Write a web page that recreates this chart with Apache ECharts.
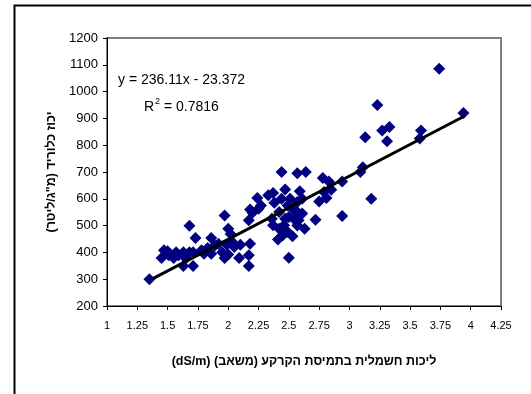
<!DOCTYPE html>
<html>
<head>
<meta charset="utf-8">
<script src="https://cdn.jsdelivr.net/npm/echarts@6/dist/echarts.min.js"></script>
<style>
html,body{margin:0;padding:0;background:#fff;}
#c{width:531px;height:394px;}
</style>
</head>
<body>
<div id="c"></div>
<script>
// EC (dS/m) and chloride (mg/L) values
const ecValues = [1.35,3.74,3.94,3.23,3.13,3.27,3.33,3.31,3.59,3.58,3.09,3.11,3.18,2.94,2.94,2.78,2.83,2.75,2.81,2.85,2.79,2.72,2.64,2.57,2.59,2.61,2.57,2.61,2.63,2.57,2.53,2.50,2.44,2.47,2.44,2.37,2.38,2.42,2.49,2.51,2.50,2.46,2.42,2.37,2.41,2.47,2.53,2.54,2.24,2.27,2.25,2.18,2.20,2.17,2.18,2.17,2.17,2.10,2.09,2.05,2.03,2.00,1.97,2.02,1.99,1.95,1.97,2.00,1.92,1.86,1.89,1.86,1.80,1.73,1.68,1.71,1.71,1.68,1.63,1.63,1.57,1.55,1.51,1.47,1.45,1.50,1.59,1.65,1.78,1.83,2.36,2.33,2.49,2.45,2.57,2.58];
const chlorideValues = [300,1085,920,950,830,855,868,815,855,825,700,718,600,665,536,678,665,590,603,634,625,522,700,695,628,600,588,545,488,500,460,380,700,635,600,622,585,551,575,600,532,501,488,501,448,526,563,526,603,575,563,560,548,520,432,389,349,429,379,420,441,488,538,469,429,401,379,392,432,454,426,395,395,454,499,349,401,401,349,401,401,379,389,408,379,404,389,377,408,416,526,613,476,464,551,520];
// Trend line endpoints (y = 236.11x - 23.372)
const trendX = [1.37, 3.95];
const trendY = [300, 909];
const equationText = 'y = 236.11x - 23.372';
const r2Value = '0.7816';
const xAxisTitle = '\u202Bליכות חשמלית בתמיסת הקרקע (משאב) (dS/m)\u202C';
const yAxisTitle = '\u202Bיכוז כלוריד (מ"ג/ליטר)\u202C';

const FONT = '"Liberation Sans", Arial, sans-serif';
const scatterData = ecValues.map((x, i) => [x, chlorideValues[i]]);
const trendData = trendX.map((x, i) => [x, trendY[i]]);

const chart = echarts.init(document.getElementById('c'), null, {renderer: 'canvas'});
chart.setOption({
  animation: false,
  backgroundColor: '#ffffff',
  textStyle: {fontFamily: FONT},
  title: [
    {text: equationText, left: 113, top: 68, textStyle: {fontFamily: FONT, fontSize: 14, fontWeight: 'normal', color: '#000'}},
    {text: '{a|R}{s|2}{a| = ' + r2Value + '}', left: 139, top: 92,
     textStyle: {fontWeight: 'normal', rich: {
       a: {fontFamily: FONT, fontSize: 14, fontWeight: 'normal', color: '#000', verticalAlign: 'bottom'},
       s: {fontFamily: FONT, fontSize: 9, fontWeight: 'normal', color: '#000', verticalAlign: 'top', padding: [0,0,8,1]}
     }}}
  ],
  graphic: [
    {type: 'rect', left: 12, top: 3, shape: {x: 0, y: 0, width: 600, height: 600},
     style: {fill: 'none', stroke: '#000', lineWidth: 2}, silent: true}
  ],
  grid: {left: 107, right: 30, top: 38, bottom: 88, show: true, borderColor: '#808080', borderWidth: 2, backgroundColor: '#fff'},
  xAxis: {
    type: 'value', min: 1, max: 4.25, interval: 0.25,
    name: xAxisTitle, nameLocation: 'middle', nameGap: 49,
    nameTextStyle: {fontFamily: FONT, fontSize: 12.5, fontWeight: 'bold', color: '#000'},
    axisLine: {show: true, onZero: false, lineStyle: {color: '#000', width: 1}},
    axisTick: {show: true, length: 4, inside: false, lineStyle: {color: '#000'}},
    axisLabel: {fontFamily: FONT, fontSize: 11, color: '#000', margin: 14},
    splitLine: {show: false}
  },
  yAxis: {
    type: 'value', min: 200, max: 1200, interval: 100,
    name: yAxisTitle, nameLocation: 'middle', nameGap: 48,
    nameTextStyle: {fontFamily: FONT, fontSize: 12.5, fontWeight: 'bold', color: '#000'},
    axisLine: {show: true, onZero: false, lineStyle: {color: '#000', width: 1}},
    axisTick: {show: true, length: 4, inside: false, lineStyle: {color: '#000'}},
    axisLabel: {fontFamily: FONT, fontSize: 13, color: '#000', margin: 9, formatter: v => String(v)},
    splitLine: {show: false}
  },
  series: [
    {type: 'scatter', data: scatterData, symbol: 'diamond', symbolSize: 12,
     itemStyle: {color: '#000080', opacity: 1}, z: 2},
    {type: 'line', data: trendData, symbol: 'none', lineStyle: {color: '#000', width: 3}, z: 3}
  ]
});
</script>
</body>
</html>
